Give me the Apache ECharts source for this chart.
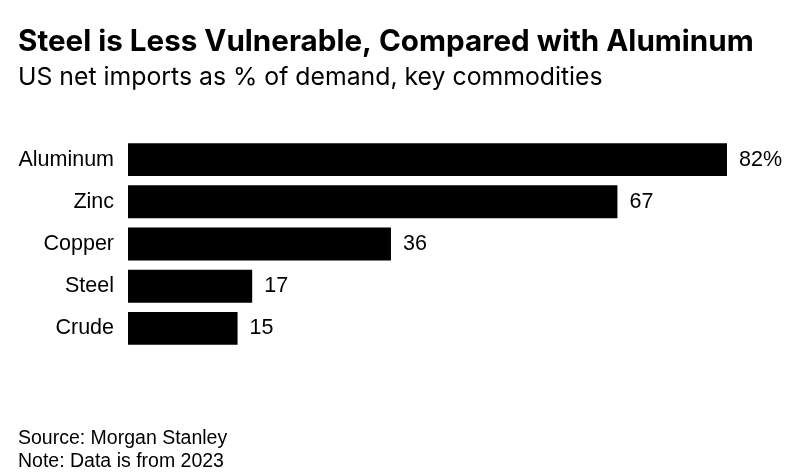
<!DOCTYPE html>
<html><head><meta charset="utf-8">
<script src="https://cdn.jsdelivr.net/npm/echarts@6/dist/echarts.min.js"></script>
<style>html,body{margin:0;padding:0;background:#fff}#c{width:801px;height:474px}</style>
</head><body><div id="c"></div>
<script>
const categories = ["Aluminum", "Zinc", "Copper", "Steel", "Crude"];
const values = [82, 67, 36, 17, 15];
const titleText = "Steel is Less Vulnerable, Compared with Aluminum";
const subtitleText = "US net imports as % of demand, key commodities";
const footerLines = ["Source: Morgan Stanley", "Note: Data is from 2023"];

const chart = echarts.init(document.getElementById('c'));
const font = "'Liberation Sans', Arial, sans-serif";
const headFont = "Inter, 'Liberation Sans', sans-serif";
chart.setOption({
  backgroundColor: '#fff',
  animation: false,
  title: [
    {text: titleText, left: 13, top: 22, textStyle: {fontFamily: headFont, fontSize: 29.6, fontWeight: 'bold', color: '#000'}},
    {text: subtitleText, left: 13, top: 60, textStyle: {fontFamily: headFont, fontSize: 24.8, fontWeight: 'normal', color: '#000'}},
    {text: footerLines.join('\n'), left: 13, top: 422, textStyle: {fontFamily: font, fontSize: 19.5, fontWeight: 'normal', color: '#000', lineHeight: 23}}
  ],
  grid: {left: 128, right: 74, top: 138.5, bottom: 124.5, containLabel: false},
  xAxis: {type: 'value', min: 0, max: 82, show: false},
  yAxis: {
    type: 'category', data: categories, inverse: true,
    axisLine: {show: false}, axisTick: {show: false}, splitLine: {show: false},
    axisLabel: {fontFamily: font, fontSize: 21.5, color: '#000', margin: 14}
  },
  series: [{
    type: 'bar', data: values, barCategoryGap: '22%',
    itemStyle: {color: '#000'},
    label: {show: true, position: 'right', distance: 12, fontFamily: font, fontSize: 21.5, color: '#000',
      formatter: p => p.dataIndex === 0 ? p.value + '%' : String(p.value)}
  }]
});
</script></body></html>
